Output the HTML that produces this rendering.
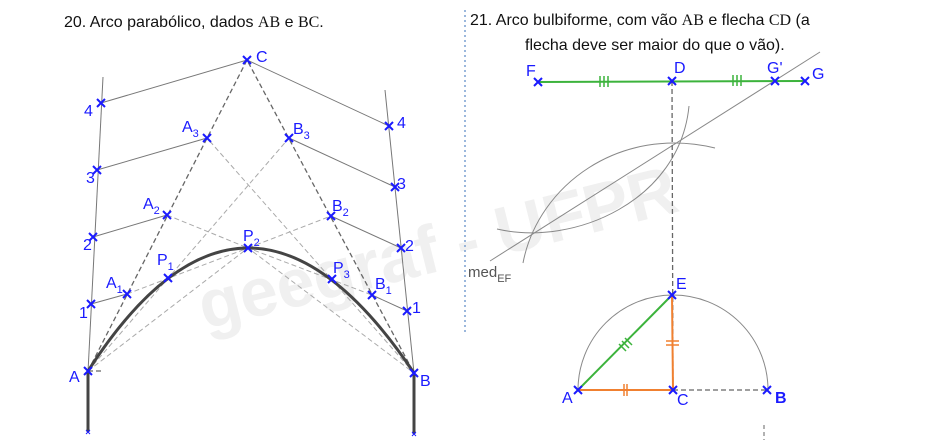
<!DOCTYPE html>
<html><head><meta charset="utf-8"><style>
body{margin:0;background:#fff;}
svg{display:block}
.t{font-family:"Liberation Sans",Arial,sans-serif;font-size:16px;fill:#111}
.l{font-family:"Liberation Sans",Arial,sans-serif;font-size:16px;fill:#1a1aff}
.s{font-size:11px}
</style></head><body>
<svg width="950" height="440" viewBox="0 0 950 440" xmlns="http://www.w3.org/2000/svg">
<defs>
<g id="x"><path d="M-4,-4L4,4M-4,4L4,-4" stroke="#1a1aff" stroke-width="2"/></g>
</defs>
<!-- watermark -->
<text x="185" y="262" transform="rotate(-14 470 215)" font-family="Liberation Sans,Arial,sans-serif" font-weight="bold" font-size="68" fill="#f0f0f0">geegraf - UFPR</text>

<text class="t" x="64" y="27">20. Arco parabólico, dados <tspan font-family="Liberation Serif,serif">AB</tspan> e <tspan font-family="Liberation Serif,serif">BC</tspan>.</text>
<text class="t" x="470" y="25">21. Arco bulbiforme, com vão <tspan font-family="Liberation Serif,serif">AB</tspan> e flecha <tspan font-family="Liberation Serif,serif">CD</tspan> (a</text>
<text class="t" x="525" y="50">flecha deve ser maior do que o vão).</text>

<line x1="465" y1="10" x2="465" y2="335" stroke="#7a9fd0" stroke-width="1.5" stroke-dasharray="2,3"/>

<!-- LEFT -->
<g stroke="#777" stroke-width="1" fill="none">
<line x1="103" y1="77" x2="88" y2="372"/>
<line x1="385" y1="90" x2="414" y2="373"/>
<polyline points="101,103 247,60 389,126"/>
<line x1="97" y1="170" x2="207" y2="138"/>
<line x1="289" y1="138" x2="395" y2="187"/>
<line x1="93" y1="237" x2="167" y2="215"/>
<line x1="331" y1="216" x2="401" y2="248"/>
<line x1="91" y1="304" x2="127" y2="294"/>
<line x1="372" y1="295" x2="407" y2="311"/>
</g>
<g stroke="#666" stroke-width="1.3" stroke-dasharray="5,3" fill="none">
<polyline points="88,371 247,60 414,373"/>
<line x1="88" y1="371" x2="102" y2="371"/>
</g>
<g stroke="#aaa" stroke-width="1" stroke-dasharray="5,3" fill="none">
<line x1="88" y1="371" x2="289" y2="138"/>
<line x1="414" y1="373" x2="207" y2="138"/>
<polyline points="167,215 248,248 331,216"/>
<polyline points="127,294 248,248 372,295"/>
<polyline points="88,371 248,248 414,373"/>
</g>
<path d="M88,432 L88,371 Q247,124 414,373 L414,434" stroke="#444" stroke-width="3" fill="none"/>
<g>
<use href="#x" x="247" y="60"/><use href="#x" x="101" y="103"/><use href="#x" x="97" y="170"/><use href="#x" x="93" y="237"/><use href="#x" x="91" y="304"/><use href="#x" x="88" y="371"/>
<use href="#x" x="389" y="126"/><use href="#x" x="395" y="187"/><use href="#x" x="401" y="248"/><use href="#x" x="407" y="311"/><use href="#x" x="414" y="373"/>
<use href="#x" x="207" y="138"/><use href="#x" x="289" y="138"/><use href="#x" x="167" y="215"/><use href="#x" x="331" y="216"/><use href="#x" x="127" y="294"/><use href="#x" x="372" y="295"/>
<use href="#x" x="168" y="278"/><use href="#x" x="248" y="248"/><use href="#x" x="332" y="279"/>
<use href="#x" x="88" y="432" transform="translate(44 216) scale(.5)"/><use href="#x" x="414" y="434" transform="translate(207 217) scale(.5)"/>
</g>
<g class="l">
<text x="256" y="62">C</text>
<text x="84" y="116">4</text><text x="86" y="183">3</text><text x="83" y="250">2</text><text x="79" y="318">1</text><text x="69" y="382">A</text>
<text x="397" y="128">4</text><text x="397" y="189">3</text><text x="405" y="251">2</text><text x="412" y="313">1</text><text x="420" y="386">B</text>
<text x="182" y="132">A<tspan class="s" dy="5">3</tspan></text>
<text x="293" y="134">B<tspan class="s" dy="5">3</tspan></text>
<text x="143" y="209">A<tspan class="s" dy="5">2</tspan></text>
<text x="332" y="211">B<tspan class="s" dy="5">2</tspan></text>
<text x="106" y="288">A<tspan class="s" dy="5">1</tspan></text>
<text x="375" y="289">B<tspan class="s" dy="5">1</tspan></text>
<text x="157" y="265">P<tspan class="s" dy="5">1</tspan></text>
<text x="243" y="241">P<tspan class="s" dy="5">2</tspan></text>
<text x="333" y="273">P<tspan class="s" dy="5">3</tspan></text>
</g>

<!-- RIGHT -->
<line x1="538" y1="82" x2="805" y2="81" stroke="#3cb33c" stroke-width="2"/>
<g stroke="#3cb33c" stroke-width="1.5">
<path d="M600,76v11M604,76v11M608,76v11M733,75v11M737,75v11M741,75v11"/>
</g>
<line x1="490" y1="261" x2="820" y2="52" stroke="#888" stroke-width="1"/>
<path d="M523,263 C538,185 620,125 715,148" stroke="#888" fill="none"/>
<path d="M497,229 C575,247 680,200 689,106" stroke="#888" fill="none"/>
<line x1="672" y1="81" x2="673" y2="390" stroke="#666" stroke-width="1.3" stroke-dasharray="5,3"/>
<line x1="764" y1="425" x2="764" y2="440" stroke="#888" stroke-width="1.3" stroke-dasharray="4,3"/>
<path d="M578,390 A95,95 0 0 1 768,390" stroke="#888" fill="none"/>
<line x1="673" y1="390" x2="767" y2="390" stroke="#666" stroke-width="1.3" stroke-dasharray="5,3"/>
<line x1="578" y1="390" x2="672" y2="295" stroke="#3cb33c" stroke-width="2"/>
<path d="M619,344l7,7M622,341l7,7M625,338l7,7" stroke="#3cb33c" stroke-width="1.5"/>
<g stroke="#f08030" stroke-width="2"><line x1="578" y1="390" x2="673" y2="390"/><line x1="672" y1="295" x2="673" y2="390"/></g>
<path d="M624,384v12M627,384v12M666,341h13M666,345h13" stroke="#f08030" stroke-width="1.5"/>
<text x="468" y="277" font-family="Liberation Sans,Arial,sans-serif" font-size="15" fill="#555">med<tspan font-size="11" dy="5">EF</tspan></text>
<g>
<use href="#x" x="538" y="82"/><use href="#x" x="672" y="81"/><use href="#x" x="775" y="81"/><use href="#x" x="805" y="81"/>
<use href="#x" x="672" y="295"/><use href="#x" x="578" y="390"/><use href="#x" x="673" y="390"/><use href="#x" x="767" y="390"/>
</g>
<g class="l">
<text x="526" y="76">F</text><text x="674" y="73">D</text><text x="767" y="73">G'</text><text x="812" y="79">G</text>
<text x="676" y="289">E</text><text x="562" y="403">A</text><text x="677" y="405">C</text><text x="775" y="403" font-weight="bold">B</text>
</g>
</svg>
</body></html>
